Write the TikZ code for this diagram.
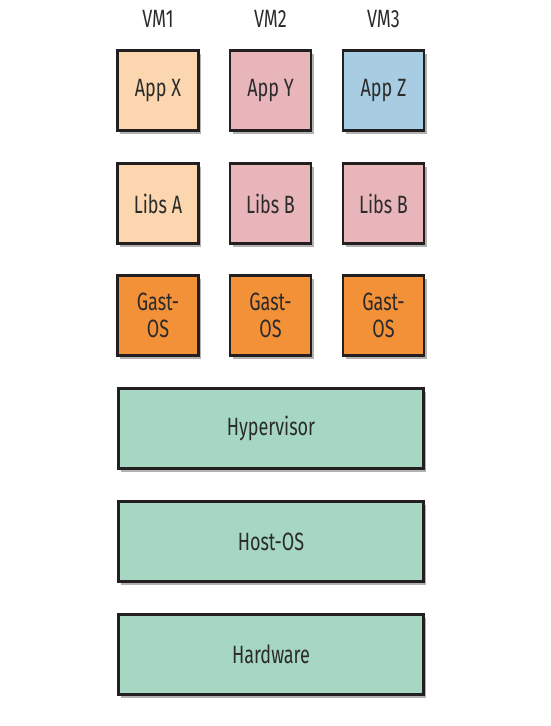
\documentclass[tikz,border=0pt]{standalone}
\usepackage{fontspec}
\setmainfont[FakeStretch=0.72]{Fira Sans}
\usetikzlibrary{shadows}
\definecolor{peach}{HTML}{FBD6AE}
\definecolor{pinkb}{HTML}{E7B5BA}
\definecolor{blueb}{HTML}{A8CDE2}
\definecolor{orangeb}{HTML}{F39139}
\definecolor{greenb}{HTML}{A6D7C3}
\definecolor{edge}{HTML}{231F20}
\definecolor{txt}{HTML}{2B2B2B}
\tikzset{
  box/.style={draw=edge, line width=2.4pt, minimum height=80pt, text=txt,
    font=\fontsize{25}{27}\selectfont, align=center, inner sep=0pt,
    drop shadow={shadow xshift=2.5pt, shadow yshift=-3.5pt, opacity=0.5, fill=black!60}},
  small/.style={box, minimum width=81pt},
  wide/.style={box, minimum width=305pt},
  vmlabel/.style={text=txt, font=\fontsize{25}{27}\selectfont}
}
\begin{document}
\begin{tikzpicture}[x=1pt,y=-1pt]
\useasboundingbox (0,0) rectangle (550,726);
\node[vmlabel] (vm1) at (158,19) {VM1};
\node[vmlabel] (vm2) at (270.5,19) {VM2};
\node[vmlabel] (vm3) at (383.5,19) {VM3};
\node[small, fill=peach] (appx) at (158,90.5) {App X};
\node[small, fill=pinkb] (appy) at (270.5,90.5) {App Y};
\node[small, fill=blueb] (appz) at (383.5,90.5) {App Z};
\node[small, fill=peach] (libsa) at (158,203.5) {Libs A};
\node[small, fill=pinkb] (libsb1) at (270.5,203.5) {Libs B};
\node[small, fill=pinkb] (libsb2) at (383.5,203.5) {Libs B};
\node[small, fill=orangeb] (os1) at (158,315.5) {Gast-\\OS};
\node[small, fill=orangeb] (os2) at (270.5,315.5) {Gast-\\OS};
\node[small, fill=orangeb] (os3) at (383.5,315.5) {Gast-\\OS};
\node[wide, fill=greenb] (hyp) at (271,428.5) {Hypervisor};
\node[wide, fill=greenb] (host) at (271,541.5) {Host-OS};
\node[wide, fill=greenb] (hw) at (271,654.5) {Hardware};
\end{tikzpicture}
\end{document}
